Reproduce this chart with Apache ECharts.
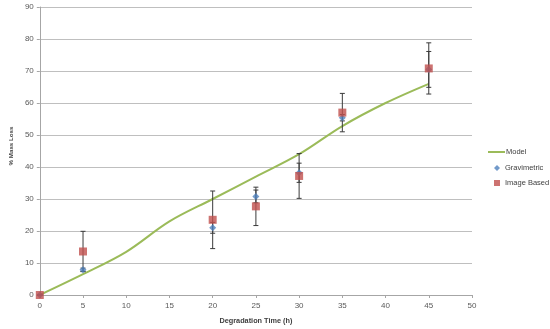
<!DOCTYPE html>
<html><head><meta charset="utf-8">
<script src="https://cdn.jsdelivr.net/npm/echarts@6/dist/echarts.min.js"></script>
<style>html,body{margin:0;padding:0;background:#fff}#c{width:550px;height:329px}</style>
</head><body><div id="c"></div>
<script>
// Data
var modelX = [0, 5, 10, 15, 20, 25, 30, 35, 40, 45];
var modelY = [0, 6.5, 13.5, 23, 30, 37, 44, 52.8, 60, 66];
var sampleX = [0, 5, 20, 25, 30, 35, 45];
var gravimetric = [0, 7.9, 21.0, 30.8, 38.2, 55.4, 70.5];
var gravimetricErr = [0, 0.5, 1.7, 2.0, 3.0, 1.0, 5.6];
var imageBased = [0, 13.6, 23.5, 27.7, 37.2, 57.0, 70.8];
var imageBasedErr = [0, 6.3, 9.0, 6.0, 7.0, 6.0, 8.0];
var xTicks = [0, 5, 10, 15, 20, 25, 30, 35, 40, 45, 50];
var yTicks = [0, 10, 20, 30, 40, 50, 60, 70, 80, 90];

var font = 'Liberation Sans';
function pairs(xs, ys) { return xs.map(function (x, i) { return [x, ys[i]]; }); }
function errData(xs, ys, es) { return xs.map(function (x, i) { return [x, ys[i] - es[i], ys[i] + es[i]]; }); }

function renderErr(params, api) {
  var x = api.value(0);
  var lo = api.coord([x, api.value(1)]);
  var hi = api.coord([x, api.value(2)]);
  var w = 2.5;
  var st = { stroke: '#3a3a3a', lineWidth: 1 };
  return {
    type: 'group',
    children: [
      { type: 'line', shape: { x1: lo[0], y1: lo[1], x2: hi[0], y2: hi[1] }, style: st },
      { type: 'line', shape: { x1: lo[0] - w, y1: lo[1], x2: lo[0] + w, y2: lo[1] }, style: st },
      { type: 'line', shape: { x1: hi[0] - w, y1: hi[1], x2: hi[0] + w, y2: hi[1] }, style: st }
    ]
  };
}

var legendText = { fontSize: 7.5, color: '#404040', fontFamily: font };

var chart = echarts.init(document.getElementById('c'), null, { renderer: 'canvas' });
chart.setOption({
  animation: false,
  backgroundColor: '#fff',
  textStyle: { fontFamily: font },
  grid: { left: 30, right: 78, top: 7, bottom: 31, containLabel: false },
  legend: [
    {
      orient: 'vertical', left: 488, top: 148, padding: 0,
      itemWidth: 17, itemHeight: 2,
      textStyle: Object.assign({}, legendText, { padding: [0, 0, 0, -4] }),
      data: [{ name: 'Model', icon: 'rect' }]
    },
    {
      orient: 'vertical', left: 494, top: 164, padding: 0,
      itemWidth: 6, itemHeight: 6,
      textStyle: legendText,
      data: [{ name: 'Gravimetric', icon: 'diamond' }]
    },
    {
      orient: 'vertical', left: 494, top: 179, padding: 0,
      itemWidth: 6, itemHeight: 6,
      textStyle: legendText,
      data: [{ name: 'Image Based', icon: 'rect' }]
    }
  ],
  xAxis: {
    type: 'value', min: xTicks[0], max: xTicks[xTicks.length - 1], interval: 5,
    name: 'Degradation Time (h)', nameLocation: 'middle', nameGap: 22,
    nameTextStyle: { fontSize: 7.3, fontWeight: 'bold', color: '#404040', fontFamily: font },
    axisLine: { lineStyle: { color: '#A6A6A6', width: 1 } },
    axisTick: { show: true, length: 3, lineStyle: { color: '#A6A6A6' } },
    axisLabel: { fontSize: 8, color: '#595959', margin: 7 },
    splitLine: { show: false }
  },
  yAxis: {
    type: 'value', min: yTicks[0], max: yTicks[yTicks.length - 1], interval: 10,
    name: '% Mass Loss', nameLocation: 'middle', nameGap: 22, nameRotate: 90,
    nameTextStyle: { fontSize: 6.2, fontWeight: 'bold', color: '#404040', fontFamily: font, padding: [0, 0, 0, 10] },
    axisLine: { show: true, lineStyle: { color: '#A6A6A6', width: 1 } },
    axisTick: { show: true, length: 3, lineStyle: { color: '#A6A6A6' } },
    axisLabel: { fontSize: 8, color: '#595959', margin: 6 },
    splitLine: { lineStyle: { color: '#BFBFBF', width: 1 } }
  },
  series: [
    {
      name: 'Model', type: 'line', data: pairs(modelX, modelY),
      smooth: 0.35, symbol: 'none', z: 3,
      lineStyle: { color: '#9BBB59', width: 2 }, itemStyle: { color: '#9BBB59' }
    },
    {
      name: 'GravErr', type: 'custom', renderItem: renderErr, z: 4,
      data: errData(sampleX, gravimetric, gravimetricErr), encode: { x: 0, y: [1, 2] }
    },
    {
      name: 'ImgErr', type: 'custom', renderItem: renderErr, z: 4,
      data: errData(sampleX, imageBased, imageBasedErr), encode: { x: 0, y: [1, 2] }
    },
    {
      name: 'Gravimetric', type: 'scatter', data: pairs(sampleX, gravimetric),
      symbol: 'diamond', symbolSize: 7, z: 5,
      itemStyle: { color: '#4F81BD' }
    },
    {
      name: 'Image Based', type: 'scatter', data: pairs(sampleX, imageBased),
      symbol: 'rect', symbolSize: 8, z: 6,
      itemStyle: { color: '#C0504D' }
    }
  ]
});
</script></body></html>
